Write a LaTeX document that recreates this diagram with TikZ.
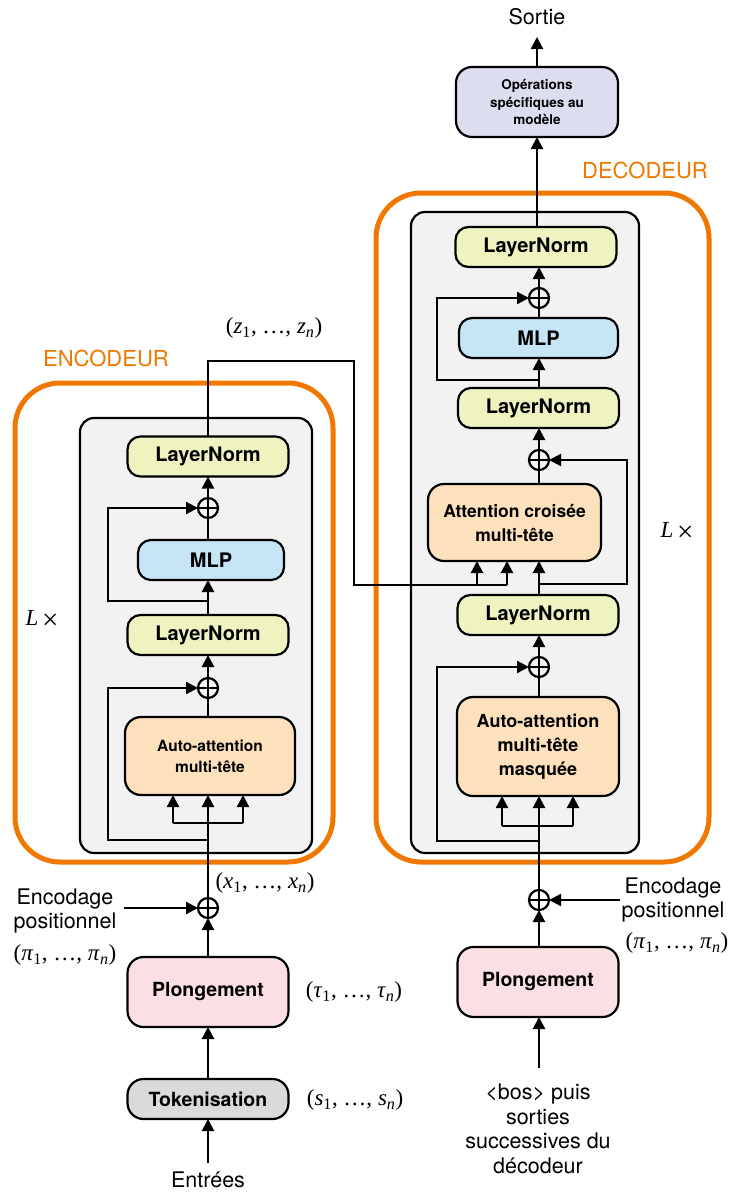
\documentclass[tikz,border=0pt]{standalone}
\usepackage[no-math]{fontspec}
\setmainfont{TeX Gyre Heros}
\newfontfamily\mfont{Liberation Serif}
\newcommand\tup[1]{{\mfont(\textit{#1}\textsubscript{1}, \ldots, \textit{#1}\textsubscript{\textit{n}})}}
\newcommand\ltimes{{\mfont\textit{L}\,\raisebox{-3.5pt}{\fontsize{29}{29}\selectfont×}}}
\usetikzlibrary{arrows.meta}
\definecolor{orangeF}{HTML}{F07800}
\definecolor{lnc}{HTML}{EFF3BF}
\definecolor{mlpc}{HTML}{C6E6F6}
\definecolor{attc}{HTML}{FDE1BC}
\definecolor{plc}{HTML}{FBE0E3}
\definecolor{tokc}{HTML}{DADADA}
\definecolor{opc}{HTML}{DCDEF0}
\definecolor{grayc}{HTML}{F2F2F2}
\begin{document}
\begin{tikzpicture}[x=1pt,y=-1pt,
  every node/.style={inner sep=0pt, outer sep=0pt},
  lw/.style={line width=2.2pt},
  arr/.style={lw, -{Triangle[length=12pt,width=12pt]}},
  box/.style={draw, lw, rounded corners=13pt, align=center},
  ln/.style={box, fill=lnc, minimum width=161pt, minimum height=40pt, font=\bfseries\fontsize{20}{24}\selectfont},
  mlpbox/.style={box, fill=mlpc, minimum height=40pt, font=\bfseries\fontsize{20}{24}\selectfont},
  attbox/.style={box, fill=attc, rounded corners=16pt},
  plbox/.style={box, fill=plc, rounded corners=16pt, minimum width=161pt, minimum height=70pt, font=\bfseries\fontsize{19.5}{24}\selectfont},
  tokbox/.style={box, fill=tokc, rounded corners=16pt, minimum width=161pt, minimum height=40pt, font=\bfseries\fontsize{19.5}{24}\selectfont},
  opbox/.style={box, fill=opc, rounded corners=16pt, minimum width=162pt, minimum height=70pt, font=\bfseries\fontsize{13.5}{17.5}\selectfont},
  plus/.style={circle, draw, lw, minimum size=20pt,
    path picture={\draw[lw] (path picture bounding box.north) -- (path picture bounding box.south)
      (path picture bounding box.west) -- (path picture bounding box.east);}},
  txt/.style={font=\fontsize{21.5}{23.5}\selectfont, align=center},
  mtxt/.style={font=\fontsize{23}{26}\selectfont},
  otxt/.style={font=\fontsize{22}{26}\selectfont, text=orangeF},
  outer/.style={draw=orangeF, line width=5pt, rounded corners=45pt},
  inner/.style={draw, fill=grayc, lw, rounded corners=14pt}
]
\useasboundingbox (0,0) rectangle (734,1194);

% ---------------- containers ----------------
\draw[outer] (15,383) rectangle (333,862);
\draw[inner] (80,418) rectangle (312,853);
\draw[outer] (376,193) rectangle (709,862);
\draw[inner] (411,212) rectangle (639,853);

% ---------------- encoder nodes ----------------
\node[ln] (eln1) at (208,456.5) {LayerNorm};
\node[plus] (ep1) at (208,508) {};
\node[mlpbox, minimum width=146pt] (emlp) at (211,560) {MLP};
\node[ln] (eln2) at (208,635) {LayerNorm};
\node[plus] (ep2) at (208,688) {};
\node[attbox, minimum width=170pt, minimum height=78pt, font=\bfseries\fontsize{15.5}{21}\selectfont] (eatt) at (210,756) {Auto-attention\\multi-tête};
\node[plus] (epe) at (208,908) {};
\node[plbox] (eplong) at (208,992) {Plongement};
\node[tokbox] (etok) at (208,1099) {Tokenisation};

\node[otxt] (enclab) at (106,358) {ENCODEUR};
\node[mtxt] (elx) at (42,620) {\ltimes};
\node[mtxt] (zlab) at (274,328) {\tup{z}};
\node[mtxt] (xlab) at (265,883) {\tup{x}};
\node[txt] (epos) at (65,911) {Encodage\\positionnel};
\node[mtxt] (epi) at (65,955) {\tup{π}};
\node[mtxt] (tau) at (354,992) {\tup{τ}};
\node[mtxt] (slab) at (355,1100) {\tup{s}};
\node[txt] (entrees) at (208,1180) {Entrées};

% ---------------- decoder nodes ----------------
\node[txt] (sortie) at (537,17) {Sortie};
\node[opbox] (ops) at (537,102) {Opérations\\spécifiques au\\modèle};
\node[otxt] (declab) at (645,170) {DECODEUR};
\node[ln] (dln1) at (536,247) {LayerNorm};
\node[plus] (dp1) at (539,298) {};
\node[mlpbox, minimum width=159pt] (dmlp) at (538.5,338) {MLP};
\node[ln] (dln2) at (538.5,408) {LayerNorm};
\node[plus] (dp2) at (539,460) {};
\node[attbox, minimum width=173pt, minimum height=77pt, font=\bfseries\fontsize{17.5}{24}\selectfont] (dcross) at (514.5,522.5) {Attention croisée\\multi-tête};
\node[ln] (dln3) at (538,615) {LayerNorm};
\node[plus] (dp3) at (539,667) {};
\node[attbox, minimum width=162pt, minimum height=99pt, font=\bfseries\fontsize{18}{24}\selectfont] (datt) at (538,746.5) {Auto-attention\\multi-tête\\masquée};
\node[plus] (dpe) at (539,900) {};
\node[plbox] (dplong) at (538,982) {Plongement};
\node[mtxt] (dlx) at (677,532) {\ltimes};
\node[txt] (dpos) at (673,900) {Encodage\\positionnel};
\node[mtxt] (dpi) at (677,943) {\tup{π}};
\node[txt, font=\fontsize{21.5}{24.5}\selectfont] (bos) at (538,1129) {<bos> puis\\sorties\\successives du\\décodeur};

% ---------------- coordinates ----------------
\coordinate (ein) at (208,1163);
\coordinate (epos0) at (124,908);
\coordinate (eb1) at (173,823);
\coordinate (eb2) at (243,823);
\coordinate (es1) at (108,840);
\coordinate (es2) at (108,601);
\coordinate (zA) at (354,361);
\coordinate (zB) at (354,585);
\coordinate (zC) at (507,585);
\coordinate (zD) at (477,585);

\coordinate (din) at (539,1068);
\coordinate (dpos0) at (620,900);
\coordinate (db1) at (502,826);
\coordinate (db2) at (573,826);
\coordinate (ds1) at (437,841);
\coordinate (ds2) at (627,584);
\coordinate (ds3) at (437,380);
\coordinate (sout) at (537,37);

% ---------------- encoder connectors ----------------
\draw[arr] (ein) -- (etok);
\draw[arr] (etok) -- (eplong);
\draw[arr] (eplong) -- (epe);
\draw[arr] (epos0) -- (epe);
\draw[arr] (epe) -- (epe |- eatt.south);
\draw[lw] (eb1) -- (eb2);
\draw[arr] (eb1) -- (eb1 |- eatt.south);
\draw[arr] (eb2) -- (eb2 |- eatt.south);
\draw[arr] (epe |- es1) -- (es1) |- (ep2);
\draw[lw] (ep2 |- eatt.north) -- (ep2);
\draw[arr] (ep2) -- (ep2 |- eln2.south);
\draw[arr] (ep2 |- eln2.north) -- (ep2 |- emlp.south);
\draw[arr] (ep2 |- es2) -- (es2) |- (ep1);
\draw[lw] (ep1 |- emlp.north) -- (ep1);
\draw[arr] (ep1) -- (ep1 |- eln1.south);
\draw[lw] (ep1 |- eln1.north) |- (zA) -- (zB) -- (zC);
\draw[arr] (zD) -- (zD |- dcross.south);
\draw[arr] (zC) -- (zC |- dcross.south);

% ---------------- decoder connectors ----------------
\draw[arr] (din) -- (din |- dplong.south);
\draw[arr] (dpe |- dplong.north) -- (dpe);
\draw[arr] (dpos0) -- (dpe);
\draw[arr] (dpe) -- (dpe |- datt.south);
\draw[lw] (db1) -- (db2);
\draw[arr] (db1) -- (db1 |- datt.south);
\draw[arr] (db2) -- (db2 |- datt.south);
\draw[arr] (dpe |- ds1) -- (ds1) |- (dp3);
\draw[lw] (dp3 |- datt.north) -- (dp3);
\draw[arr] (dp3) -- (dp3 |- dln3.south);
\draw[arr] (dp3 |- dln3.north) -- (dp3 |- dcross.south);
\draw[arr] (dp3 |- ds2) -- (ds2) |- (dp2);
\draw[lw] (dp2 |- dcross.north) -- (dp2);
\draw[arr] (dp2) -- (dp2 |- dln2.south);
\draw[arr] (dp2 |- dln2.north) -- (dp2 |- dmlp.south);
\draw[arr] (dp2 |- ds3) -- (ds3) |- (dp1);
\draw[lw] (dp1 |- dmlp.north) -- (dp1);
\draw[arr] (dp1) -- (dp1 |- dln1.south);
\draw[arr] (sout |- dln1.north) -- (sout |- ops.south);
\draw[arr] (ops) -- (sout);
\end{tikzpicture}
\end{document}
